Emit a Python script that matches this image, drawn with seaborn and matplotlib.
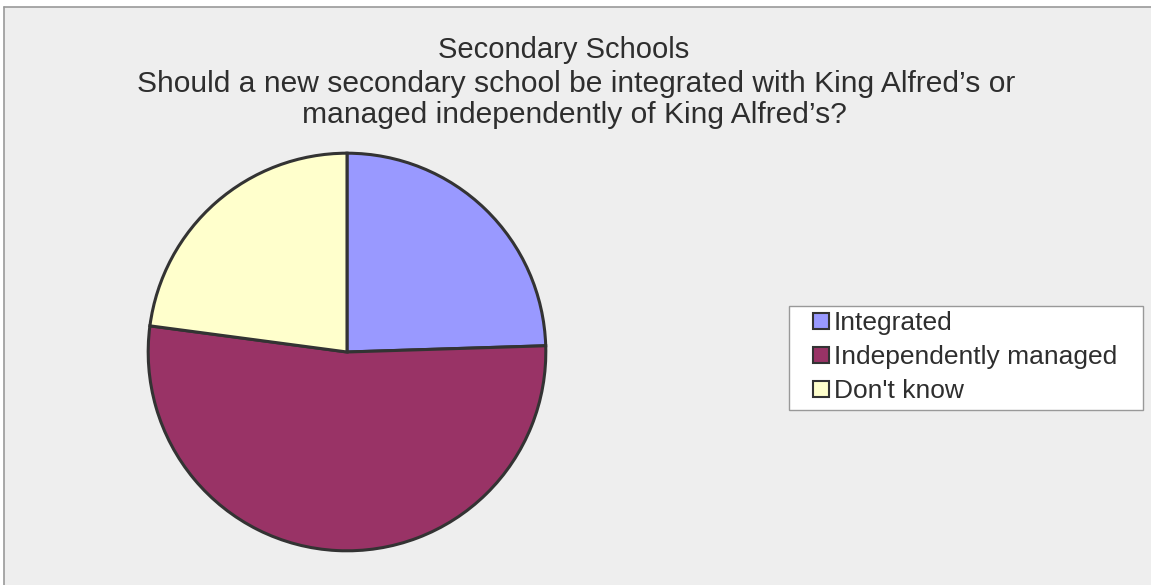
import matplotlib
matplotlib.use("Agg")
import matplotlib.pyplot as plt
from matplotlib.patches import Rectangle
from matplotlib.lines import Line2D
import seaborn as sns

# data
labels = ["Integrated", "Independently managed", "Don't know"]
shares = [24.5, 52.6, 22.9]
colours = ["#9999FF", "#993366", "#FFFFCC"]

title = "Secondary Schools"
subtitle_lines = ["Should a new secondary school be integrated with King Alfred\u2019s or",
                  "managed independently of King Alfred\u2019s?"]

sns.set_theme(style="white")
plt.rcParams["font.family"] = ["Liberation Sans", "DejaVu Sans"]
text_col = "#2E2E2E"

W, H = 1151, 585
fig = plt.figure(figsize=(W / 100, H / 100), dpi=100)
fig.patch.set_facecolor("white")


def fx(px):
    return px / W


def fy(py):
    return 1 - py / H


# grey chart area, framed only at left / top
fig.patches.append(Rectangle((fx(4), 0), 1, fy(7), transform=fig.transFigure,
                             facecolor="#EEEEEE", edgecolor="none", zorder=-5))
fig.lines.append(Line2D([fx(4), fx(4)], [0, fy(7)], transform=fig.transFigure,
                        color="#999999", lw=1.2, zorder=-4))
fig.lines.append(Line2D([fx(4), 1], [fy(7), fy(7)], transform=fig.transFigure,
                        color="#999999", lw=1.2, zorder=-4))

# pie: centre (347, 352) px, radius 200 px
cx, cy, r = 347, 352, 200
ax = fig.add_axes([fx(cx - r), fy(cy + r), 2 * r / W, 2 * r / H])
pal = sns.color_palette(colours)
wedges, _ = ax.pie(shares, colors=pal, startangle=90, counterclock=False,
                   radius=1, frame=False,
                   wedgeprops=dict(edgecolor="#333333", linewidth=2.2))
ax.set_xlim(-1.006, 1.006)
ax.set_ylim(-1.006, 1.006)
ax.set_aspect("auto")
ax.axis("off")

# titles
fig.text(fx(564), fy(58), title, ha="center", va="baseline",
         fontsize=21, color=text_col)
fig.text(fx(576), fy(92), subtitle_lines[0], ha="center", va="baseline",
         fontsize=21.6, color=text_col)
fig.text(fx(574), fy(123), subtitle_lines[1], ha="center", va="baseline",
         fontsize=21.6, color=text_col)

# legend box drawn separately, entries placed inside
fig.patches.append(Rectangle((fx(789), fy(410)), fx(1143) - fx(789), fy(306) - fy(410),
                             transform=fig.transFigure, facecolor="white",
                             edgecolor="#999999", lw=1.0, zorder=1))
handles = [Rectangle((0, 0), 1, 1, facecolor=c, edgecolor="#333333", lw=1.5)
           for c in colours]
leg = fig.legend(handles, labels, loc="center left",
                 bbox_to_anchor=(fx(813), fy(357)),
                 frameon=False, fontsize=19,
                 handlelength=0.6, handleheight=0.55,
                 handletextpad=0.2, labelspacing=0.38, borderpad=0,
                 borderaxespad=0)
leg.set_zorder(2)
for t in leg.get_texts():
    t.set_color(text_col)

fig.savefig("out.png", dpi=100)
